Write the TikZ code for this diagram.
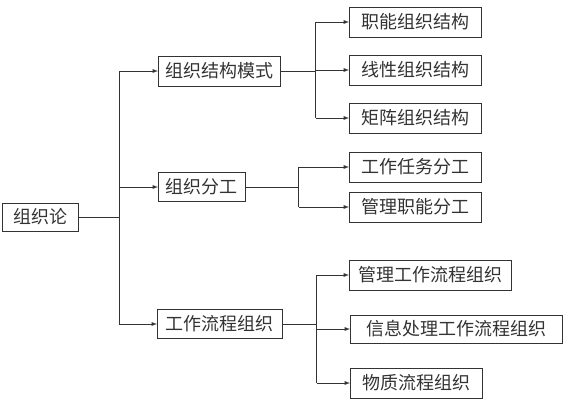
\documentclass[tikz,border=0pt]{standalone}
\usepackage{fontspec}
\setmainfont{Noto Sans CJK SC}
\usetikzlibrary{arrows}
\definecolor{ink}{gray}{0.2}

\begin{document}
\begin{tikzpicture}[x=1pt, y=-1pt, ->, >=latex, line width=0.9pt, draw=ink,
	box/.style={draw=ink, text=ink, anchor=west, minimum height=30pt, inner sep=0pt, font=\fontsize{18}{18}\selectfont, line width=0.9pt},
	leaf/.style={box, minimum width=132pt}]
	\useasboundingbox (0,0) rectangle (583,417);
	% root and first level
	\node[box, minimum width=76pt, minimum height=28pt] (org) at (2,217) {组织论};
	\node[box, minimum width=122pt] (mode) at (158,71) {组织结构模式};
	\node[box, minimum width=87pt, minimum height=29pt] (split) at (158,187) {组织分工};
	\node[box, minimum width=125pt, minimum height=29pt] (flow) at (157,324) {工作流程组织};
	
	% second level
	\node[leaf] (func) at (349,22) {职能组织结构};
	\node[leaf] (line) at (349,70) {线性组织结构};
	\node[leaf] (matrix) at (349,118) {矩阵组织结构};
	\node[leaf] (task) at (349,167) {工作任务分工};
	\node[leaf] (duty) at (349,207) {管理职能分工};
	\node[box, minimum width=162pt] (mgmt) at (349,275) {管理工作流程组织};
	\node[box, minimum width=212pt, minimum height=28pt] (info) at (350,329) {信息处理工作流程组织};
	\node[leaf] (goods) at (350,383) {物质流程组织};
	
	% trunk
	\draw[-] (org.east) -- (119,217) coordinate (t0);
	\draw[-] (t0 |- mode) -- (t0 |- flow);
	\path (mode.east) -- ++(35,0) coordinate (t1);
	\path (split.east) -- ++(53,0) coordinate (t2);
	\path (flow.east) -- ++(34,0) coordinate (t3);
	\draw[-] (mode.east) -- (t1);
	\draw[-] (split.east) -- (t2);
	\draw[-] (flow.east) -- (t3);
	\draw[-] (t1 |- func) -- (t1 |- matrix);
	\draw[-] (t2 |- task) -- (t2 |- duty);
	\draw[-] (t3 |- mgmt) -- (t3 |- goods);
	
	\path
		(t0 |- mode) edge (mode)
		(t0 |- split) edge (split)
		(t0 |- flow) edge (flow)
		(t1 |- func) edge (func)
		(t1 |- line) edge (line)
		(t1 |- matrix) edge (matrix)
		(t2 |- task) edge (task)
		(t2 |- duty) edge (duty)
		(t3 |- mgmt) edge (mgmt)
		(t3 |- info) edge (info)
		(t3 |- goods) edge (goods)
	;
\end{tikzpicture}
\end{document}
